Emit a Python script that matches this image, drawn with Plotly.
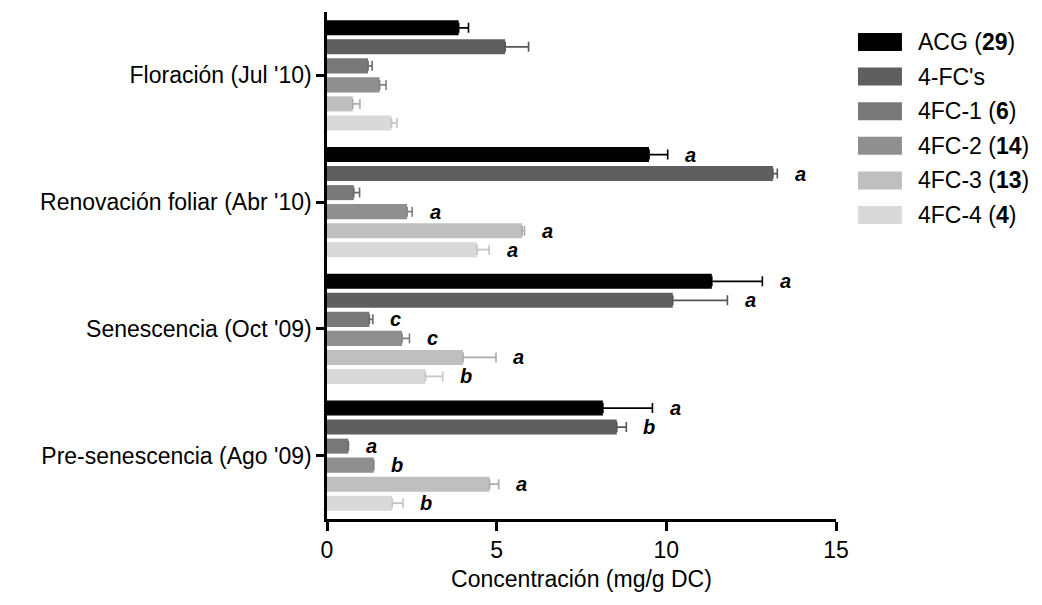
import plotly.graph_objects as go

categories = ["Floración (Jul '10)", "Renovación foliar (Abr '10)",
              "Senescencia (Oct '09)", "Pre-senescencia (Ago '09)"]

series_names = ["ACG (<b>29</b>)", "4-FC's", "4FC-1 (<b>6</b>)",
                "4FC-2 (<b>14</b>)", "4FC-3 (<b>13</b>)", "4FC-4 (<b>4</b>)"]

acg = [3.88, 9.49, 11.34, 8.13]
acg_err = [0.29, 0.55, 1.49, 1.46]
fcs = [5.25, 13.14, 10.19, 8.54]
fcs_err = [0.69, 0.13, 1.61, 0.28]
fc1 = [1.21, 0.79, 1.25, 0.63]
fc1_err = [0.12, 0.17, 0.10, 0.0]
fc2 = [1.55, 2.36, 2.21, 1.38]
fc2_err = [0.19, 0.15, 0.22, 0.0]
fc3 = [0.76, 5.75, 4.01, 4.79]
fc3_err = [0.21, 0.07, 0.97, 0.27]
fc4 = [1.90, 4.42, 2.90, 1.92]
fc4_err = [0.16, 0.36, 0.51, 0.32]

acg_letters = ["", "a", "a", "a"]
fcs_letters = ["", "a", "a", "b"]
fc1_letters = ["", "", "c", "a"]
fc2_letters = ["", "a", "c", "b"]
fc3_letters = ["", "a", "a", "a"]
fc4_letters = ["", "a", "b", "b"]

values = [acg, fcs, fc1, fc2, fc3, fc4]
errors = [acg_err, fcs_err, fc1_err, fc2_err, fc3_err, fc4_err]
letters = [acg_letters, fcs_letters, fc1_letters, fc2_letters, fc3_letters, fc4_letters]

colors = ["#000000", "#5f5f5f", "#787878", "#8f8f8f", "#bfbfbf", "#d9d9d9"]
err_colors = ["#000000", "#555555", "#6a6a6a", "#808080", "#acacac", "#c4c4c4"]

FONT = "Liberation Sans, Arial, sans-serif"

fig = go.Figure()
for name, v, e, c, ec in zip(series_names, values, errors, colors, err_colors):
    fig.add_trace(go.Bar(
        y=categories, x=v, orientation="h", name=name,
        marker=dict(color=c, line=dict(width=0)),
        error_x=dict(type="data", array=e, symmetric=False, arrayminus=[0] * len(e),
                     color=ec, thickness=1.6, width=5),
        showlegend=False,
    ))

# significance letters
n = len(values)
pitch = 19  # pixel pitch between bars within a group
annotations = []
for i, (v, e, L) in enumerate(zip(values, errors, letters)):
    for cat, val, err, lt in zip(categories, v, e, L):
        if lt:
            annotations.append(dict(
                x=val + err, y=cat, xref="x", yref="y", text=f"<b><i>{lt}</i></b>",
                showarrow=False, xanchor="center", yanchor="middle",
                xshift=23, yshift=(n / 2 - 0.5 - i) * pitch,
                font=dict(family=FONT, size=20, color="#000000")))

# page body has an 8px margin; compensate so the plot lands where the reference has it
OFF = 8
plot_left, plot_right, plot_top, plot_bottom = 326.5, 836, 12, 519
plot_w, plot_h = plot_right - plot_left, plot_bottom - plot_top

shapes = []
for i, (name, c) in enumerate(zip(series_names, colors)):
    top_px = 33 + i * 34.6
    y0 = (plot_bottom - (top_px + 18)) / plot_h
    y1 = (plot_bottom - top_px) / plot_h
    x0 = (858 - plot_left) / plot_w
    x1 = (902 - plot_left) / plot_w
    shapes.append(dict(type="rect", xref="paper", yref="paper", x0=x0, x1=x1, y0=y0, y1=y1,
                       fillcolor=c, line=dict(width=0)))
    annotations.append(dict(x=(916 - plot_left) / plot_w, y=(y0 + y1) / 2, xref="paper", yref="paper",
                            text=name, showarrow=False, xanchor="left", yanchor="middle",
                            font=dict(family=FONT, size=23, color="#000000")))

W, H = 1042 - OFF, 605 - OFF
fig.update_layout(
    width=W, height=H,
    margin=dict(l=plot_left - OFF, r=W - (plot_right - OFF), t=plot_top - OFF, b=H - (plot_bottom - OFF),
                pad=0, autoexpand=False),
    plot_bgcolor="white", paper_bgcolor="white",
    barmode="group", bargap=0.1, bargroupgap=0.21,
    font=dict(family=FONT, size=23, color="#000000"),
    annotations=annotations, shapes=shapes,
    showlegend=False,
)
fig.update_xaxes(range=[0, 15], tickvals=[0, 5, 10, 15], showgrid=False, zeroline=False,
                 showline=True, linecolor="black", linewidth=2.5,
                 ticks="outside", ticklen=9, tickwidth=2.5, tickcolor="black",
                 tickfont=dict(family=FONT, size=23),
                 title=dict(text="Concentración (mg/g DC)", font=dict(family=FONT, size=23), standoff=9))
fig.update_yaxes(categoryorder="array", categoryarray=categories, autorange="reversed",
                 showgrid=False, zeroline=False, showline=True, linecolor="black", linewidth=2.5,
                 ticks="outside", ticklen=8, tickwidth=2.5, tickcolor="black",
                 tickfont=dict(family=FONT, size=23))

fig.write_html("out.html")
